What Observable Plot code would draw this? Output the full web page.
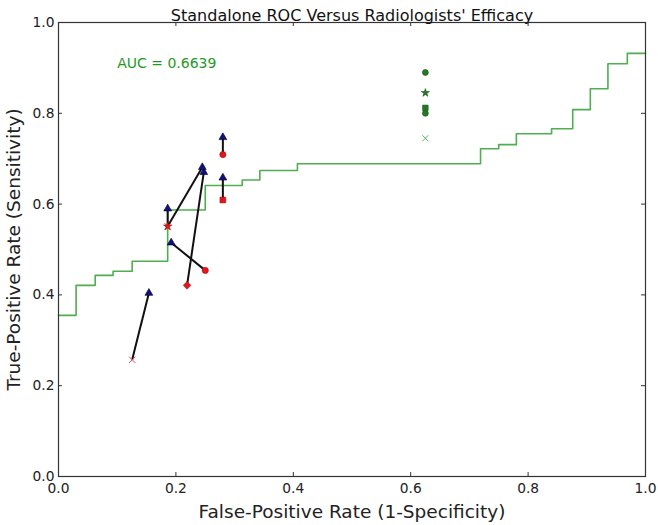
<!DOCTYPE html>
<html>
<head>
<meta charset="utf-8">
<script src="https://cdn.jsdelivr.net/npm/d3@7"></script>
<script src="https://cdn.jsdelivr.net/npm/@observablehq/plot@0.6"></script>
<style>
  html, body { margin: 0; padding: 0; background: #fff; }
  svg { font-family: "DejaVu Sans", sans-serif; }
</style>
</head>
<body>
<div id="chart"></div>
<script>
// ROC curve (step-after thresholds)
const rocFpr = [0, 0.030, 0.0625, 0.093, 0.1255, 0.186, 0.250, 0.313, 0.343, 0.407, 0.719, 0.750, 0.780, 0.840, 0.876, 0.906, 0.936, 0.969, 1.0];
const rocTpr = [0.355, 0.421, 0.443, 0.452, 0.474, 0.587, 0.641, 0.653, 0.674, 0.689, 0.722, 0.731, 0.755, 0.766, 0.808, 0.854, 0.909, 0.932, 0.932];

// Radiologists: unaided (red) -> aided (blue arrow tip)
const readerFprBefore = [0.1255, 0.219, 0.250, 0.186, 0.186, 0.280, 0.280];
const readerTprBefore = [0.257, 0.421, 0.454, 0.551, 0.551, 0.709, 0.609];
const readerFprAfter  = [0.154, 0.2475, 0.192, 0.186, 0.245, 0.280, 0.280];
const readerTprAfter  = [0.404, 0.670, 0.515, 0.590, 0.681, 0.747, 0.658];
const readerSymbol    = ["times", "diamond2", "circle", "star", "times", "circle", "square"];

// Green reference points
const greenFpr = [0.625, 0.625, 0.625, 0.625, 0.625];
const greenTpr = [0.890, 0.845, 0.812, 0.800, 0.745];
const greenSymbol = ["circle", "star", "square", "circle", "times"];

const tickValues = [0, 0.2, 0.4, 0.6, 0.8, 1.0];
const titleText = "Standalone ROC Versus Radiologists' Efficacy";
const aucText = "AUC = 0.6639";

const roc = rocFpr.map((x, i) => ({x, y: rocTpr[i]}));
const readers = readerFprBefore.map((x, i) => ({
  x1: x, y1: readerTprBefore[i], x2: readerFprAfter[i], y2: readerTprAfter[i], s: readerSymbol[i]
}));
const greens = greenFpr.map((x, i) => ({x, y: greenTpr[i], s: greenSymbol[i]}));
const strokeSyms = new Set(["times", "plus", "asterisk"]);
const symR = s => s === "star" ? 2.2 : s === "diamond2" ? 3.7 : s === "square" ? 3.3 : 3;

const chart = Plot.plot({
  width: 658,
  height: 525,
  marginLeft: 58,
  marginRight: 13,
  marginTop: 22,
  marginBottom: 49,
  style: {fontFamily: "DejaVu Sans, sans-serif", background: "#fff"},
  x: {domain: [0, 1]},
  y: {domain: [0, 1]},
  symbol: {type: "identity"},
  marks: [
    // axes labels
    Plot.axisX(tickValues, {tickSize: 0, tickPadding: 7, tickFormat: d3.format(".1f"), fontSize: 13.8, fill: "#222",
      label: "False-Positive Rate (1-Specificity)", labelAnchor: "center", labelArrow: "none", labelOffset: 41}),
    Plot.axisY(tickValues, {tickSize: 0, tickPadding: 4, tickFormat: d3.format(".1f"), fontSize: 13.8, fill: "#222",
      label: "True-Positive Rate (Sensitivity)", labelAnchor: "center", labelArrow: "none", labelOffset: 52}),
    // inward ticks, four sides
    Plot.ruleX(tickValues, {x: d => d, y1: 0, y2: 0, insetBottom: 4, stroke: "#333"}),
    Plot.ruleX(tickValues, {x: d => d, y1: 1, y2: 1, insetTop: 4, stroke: "#333"}),
    Plot.ruleY(tickValues, {y: d => d, x1: 0, x2: 0, insetLeft: 4, stroke: "#333"}),
    Plot.ruleY(tickValues, {y: d => d, x1: 1, x2: 1, insetRight: 4, stroke: "#333"}),
    // ROC
    Plot.line(roc, {x: "x", y: "y", curve: "step-after", stroke: "#4fae4f", strokeWidth: 1.6}),
    // green points
    Plot.dot(greens.filter(d => !strokeSyms.has(d.s)), {x: "x", y: "y", symbol: "s", r: d => symR(d.s) * 0.9, fill: "#237a23", stroke: "#1a4d1a", strokeWidth: 0.6}),
    Plot.dot(greens.filter(d => strokeSyms.has(d.s)), {x: "x", y: "y", symbol: "s", r: 2.8, stroke: "#48a848", strokeWidth: 0.9}),
    // arrows
    Plot.link(readers, {x1: "x1", y1: "y1", x2: "x2", y2: "y2", stroke: "#111", strokeWidth: 2}),
    // red (unaided) markers
    Plot.dot(readers.filter(d => strokeSyms.has(d.s)), {x: "x1", y: "y1", symbol: "s", r: 3, stroke: "#e05050", strokeWidth: 1}),
    Plot.dot(readers.filter(d => !strokeSyms.has(d.s)), {x: "x1", y: "y1", symbol: "s", r: d => symR(d.s), fill: "#e8141c", stroke: "#7a1010", strokeWidth: 0.5}),
    // blue (aided) arrow tips
    Plot.dot(readers, {x: "x2", y: "y2", symbol: "triangle", r: 2.9, fill: "#10108f", stroke: "#000", strokeWidth: 0.6}),
    // frame
    Plot.frame({stroke: "#333", strokeWidth: 1.2}),
    // AUC text
    Plot.text([aucText], {x: 0.1, y: 0.91, text: d => d, textAnchor: "start", fill: "#1f9a1f", fontSize: 14}),
    // title
    Plot.text([titleText], {frameAnchor: "top", lineAnchor: "bottom", dy: -2, text: d => d, fontSize: 16, fill: "#111"})
  ]
});
document.getElementById("chart").appendChild(chart);
// axis label font sizes
chart.querySelectorAll("g[aria-label='x-axis label'] text, g[aria-label='y-axis label'] text").forEach(t => {
  t.setAttribute("font-size", "18.5");
});
</script>
</body>
</html>
